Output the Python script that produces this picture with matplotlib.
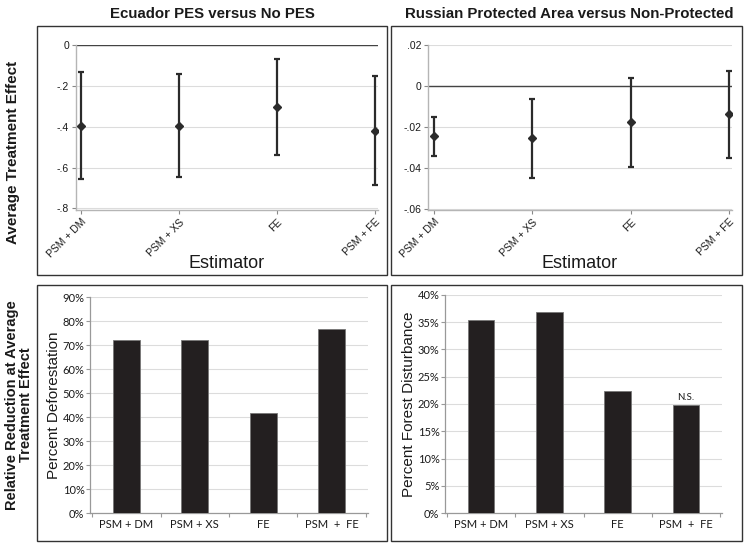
#! /usr/bin/env python3
# -*- coding: utf-8 -*-

import matplotlib
matplotlib.use('Agg')
import matplotlib.pyplot as plt
from matplotlib.patches import Rectangle
from matplotlib.ticker import FuncFormatter

estimators = ['PSM + DM', 'PSM + XS', 'FE', 'PSM + FE']
bar_labels = ['PSM + DM', 'PSM + XS', 'FE', 'PSM  +  FE']

# average treatment effect with confidence bounds
ecu_ate = [-0.395, -0.395, -0.304, -0.42]
ecu_lo = [-0.654, -0.647, -0.537, -0.686]
ecu_hi = [-0.133, -0.14, -0.07, -0.154]

rus_ate = [-0.0247, -0.0257, -0.0177, -0.0138]
rus_lo = [-0.0345, -0.0452, -0.0395, -0.0353]
rus_hi = [-0.015, -0.0063, 0.0037, 0.0075]

# relative reduction
ecu_pct = [0.719, 0.720, 0.418, 0.767]
rus_pct = [0.354, 0.368, 0.223, 0.1985]

W, H = 745, 544
TXT = '#1a1a1a'
GRID = '#dcdcdc'
MARK = '#2b2b2b'
BAR = '#231f20'
ARIAL = ['Liberation Sans', 'DejaVu Sans']
CALIBRI = ['Lato', 'DejaVu Sans']


def px_axes(fig, x0, y0, x1, y1):
    """axes from pixel box (top-left origin)"""
    return fig.add_axes([x0 / W, 1 - y1 / H, (x1 - x0) / W, (y1 - y0) / H])


def box(fig, x0, y0, x1, y1):
    fig.patches.append(Rectangle((x0 / W, 1 - y1 / H), (x1 - x0) / W, (y1 - y0) / H,
                                 transform=fig.transFigure, fill=False,
                                 edgecolor='#333333', linewidth=1.0))


def ate_panel(ax, ate, lo, hi, yticks, ylim, xlim, fmt):
    x = range(len(ate))
    err = [[a - l for a, l in zip(ate, lo)], [h - a for a, h in zip(ate, hi)]]
    ax.errorbar(x, ate, yerr=err, fmt='D', color=MARK, ecolor=MARK, markersize=4.5,
                elinewidth=1.6, capsize=2.5, capthick=1.6, zorder=3)
    ax.axhline(0, color='#444444', linewidth=1.0, zorder=2)
    ax.set_ylim(*ylim)
    ax.set_xlim(*xlim)
    ax.set_yticks(yticks)
    ax.yaxis.set_major_formatter(FuncFormatter(fmt))
    ax.set_xticks(list(x))
    ax.set_xticklabels(estimators, rotation=45, ha='right', rotation_mode='anchor',
                       fontsize=7.5, family=ARIAL, color=TXT)
    for lab in ax.get_yticklabels():
        lab.set_family(ARIAL)
        lab.set_fontsize(7.5)
        lab.set_color(TXT)
    ax.grid(axis='y', color=GRID, linewidth=0.8, zorder=0)
    ax.set_axisbelow(True)
    for s in ['top', 'right']:
        ax.spines[s].set_visible(False)
    for s in ['left', 'bottom']:
        ax.spines[s].set_color('#b5b5b5')
        ax.spines[s].set_linewidth(1.0)
    ax.tick_params(length=3, width=0.8, color='#888888', pad=2)
    ax.set_facecolor('white')


def bar_panel(ax, vals, ylim, step, ylabel, lsize, note=None):
    x = range(len(vals))
    bars = ax.bar(x, vals, width=0.39, color=BAR, edgecolor='#777777', linewidth=0.6, zorder=3)
    ax.set_ylim(*ylim)
    ax.set_xlim(-0.53, 3.53)
    n = int(round(ylim[1] / step))
    ax.set_yticks([i * step for i in range(n + 1)])
    ax.yaxis.set_major_formatter(FuncFormatter(lambda v, p: '%d%%' % round(v * 100)))
    ax.set_xticks(list(x))
    ax.set_xticklabels(bar_labels, fontsize=8, family=CALIBRI, color=TXT)
    ax.set_xticks([i + 0.5 for i in range(-1, len(vals))], minor=True)
    ax.tick_params(axis='x', which='major', length=0, pad=4)
    ax.tick_params(axis='x', which='minor', length=3, color='#999999', width=0.8)
    ax.tick_params(axis='y', length=3, color='#999999', width=0.8, pad=1)
    for lab in ax.get_yticklabels():
        lab.set_family(CALIBRI)
        lab.set_fontsize(8)
        lab.set_color(TXT)
    ax.grid(axis='y', color=GRID, linewidth=0.8, zorder=0)
    ax.set_axisbelow(True)
    for s in ['top', 'right']:
        ax.spines[s].set_visible(False)
    for s in ['left', 'bottom']:
        ax.spines[s].set_color('#999999')
        ax.spines[s].set_linewidth(0.9)
    ax.set_ylabel(ylabel, fontsize=lsize, family=ARIAL, color=TXT, labelpad=1)
    if note:
        b = bars[-1]
        ax.text(b.get_x() + b.get_width() / 2, b.get_height() + ylim[1] * 0.012, note,
                ha='center', va='bottom', fontsize=7, family=CALIBRI, color=TXT)


def main():
    fig = plt.figure(figsize=(W / 100, H / 100), dpi=100)
    fig.patch.set_facecolor('white')

    box(fig, 37, 26, 387, 275)
    box(fig, 391, 26, 742, 275)
    box(fig, 37, 285, 387, 541)
    box(fig, 391, 285, 742, 541)

    fig.text(212 / W, 1 - 14 / H, 'Ecuador PES versus No PES', ha='center', va='center',
             fontsize=10.8, fontweight='bold', family=ARIAL, color=TXT)
    fig.text(569 / W, 1 - 14 / H, 'Russian Protected Area versus Non-Protected', ha='center',
             va='center', fontsize=10.8, fontweight='bold', family=ARIAL, color=TXT)

    fig.text(13 / W, 1 - 152 / H, 'Average Treatment Effect', rotation=90, ha='center',
             va='center', fontsize=11, fontweight='bold', family=ARIAL, color=TXT)
    fig.text(19 / W, 1 - 405 / H, 'Relative Reduction at Average\nTreatment Effect',
             rotation=90, ha='center', va='center', fontsize=10.5, fontweight='bold',
             family=ARIAL, color=TXT, linespacing=1.0)

    ax1 = px_axes(fig, 76, 45, 378, 210)
    ate_panel(ax1, ecu_ate, ecu_lo, ecu_hi, [0, -0.2, -0.4, -0.6, -0.8], (-0.808, 0.0),
              (-0.05, 3.03), lambda v, p: '0' if abs(v) < 1e-9 else ('%.1f' % v).replace('0.', '.'))
    fig.text(227 / W, 1 - 263 / H, 'Estimator', ha='center', va='center', fontsize=13,
             family=ARIAL, color=TXT)

    ax2 = px_axes(fig, 428, 45, 732, 210)
    ate_panel(ax2, rus_ate, rus_lo, rus_hi, [0.02, 0, -0.02, -0.04, -0.06], (-0.0607, 0.02),
              (-0.06, 3.03), lambda v, p: '0' if abs(v) < 1e-9 else ('%.2f' % v).replace('0.', '.'))
    fig.text(580 / W, 1 - 263 / H, 'Estimator', ha='center', va='center', fontsize=13,
             family=ARIAL, color=TXT)

    ax3 = px_axes(fig, 90, 297, 368, 513)
    bar_panel(ax3, ecu_pct, (0, 0.9), 0.1, 'Percent Deforestation', 11)

    ax4 = px_axes(fig, 445, 295, 722, 513)
    bar_panel(ax4, rus_pct, (0, 0.4), 0.05, 'Percent Forest Disturbance', 11, note='N.S.')

    plt.savefig('out.png', dpi=100)
    plt.close()


if __name__ == '__main__':
    main()
